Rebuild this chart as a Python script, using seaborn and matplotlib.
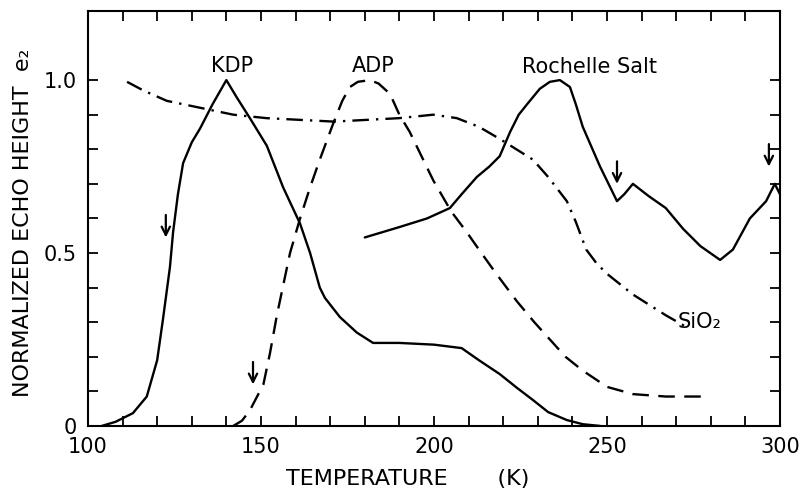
import numpy as np
import pandas as pd
import matplotlib
matplotlib.use('Agg')
import matplotlib.pyplot as plt
from matplotlib.ticker import FixedLocator
import seaborn as sns

# curves (temperature in K, normalized echo height)
kdp_T = [104, 108, 113, 117, 120, 121.7, 123.7, 124.6, 126, 127.5, 130, 132.4, 136, 140,
         143, 146.8, 151.7, 156.4, 161.3, 164.2, 167, 168.5, 172.8, 177.7, 182.4, 190,
         200, 208, 213, 219, 224, 228.6, 233, 238.4, 243, 248]
kdp_y = [0, 0.012, 0.037, 0.085, 0.19, 0.31, 0.46, 0.56, 0.67, 0.76, 0.82, 0.86, 0.93, 1.0,
         0.95, 0.89, 0.81, 0.69, 0.585, 0.50, 0.40, 0.37, 0.315, 0.27, 0.24, 0.24,
         0.235, 0.225, 0.19, 0.15, 0.11, 0.075, 0.04, 0.017, 0.005, 0]

adp_T = [142, 144.5, 146.8, 150.7, 152.6, 154.6, 156.5, 158.4, 161.3, 164.2, 167, 170.9,
         173.5, 175.7, 178, 181.5, 184, 187.3, 190, 193, 199.8, 205, 209.5, 213, 218, 224,
         229, 233.5, 238, 243, 250, 257.5, 267, 278]
adp_y = [0, 0.015, 0.045, 0.12, 0.21, 0.32, 0.41, 0.50, 0.60, 0.69, 0.77, 0.875,
         0.94, 0.98, 0.995, 1.0, 0.99, 0.96, 0.90, 0.85, 0.71, 0.62, 0.56, 0.51, 0.44, 0.36,
         0.30, 0.25, 0.20, 0.16, 0.113, 0.092, 0.085, 0.085]

sio2_T = [111.3, 116, 122.8, 132.4, 142, 151.6, 161.3, 171, 180.6, 190, 199.8, 206.6, 213,
          219, 228.6, 233, 238.4, 241, 244, 247, 250, 257.5, 267, 274]
sio2_y = [0.995, 0.97, 0.94, 0.92, 0.90, 0.89, 0.885, 0.88, 0.885, 0.89, 0.90, 0.89, 0.865,
          0.83, 0.77, 0.72, 0.65, 0.59, 0.51, 0.47, 0.44, 0.38, 0.32, 0.28]

rochelle_T = [180, 185, 190, 198, 204.6, 208, 212.4, 216, 219, 222, 224.5, 226.9, 230.6,
              233.5, 236.4, 239.3, 241, 243, 248, 252.9, 255, 257.5, 262, 267, 272, 277,
              282.7, 286.4, 291.3, 296, 298.5, 300]
rochelle_y = [0.545, 0.56, 0.575, 0.60, 0.63, 0.67, 0.72, 0.75, 0.78, 0.85, 0.90, 0.93, 0.975,
              0.995, 1.0, 0.98, 0.93, 0.865, 0.75, 0.65, 0.67, 0.70, 0.665, 0.63, 0.57, 0.52,
              0.48, 0.51, 0.60, 0.65, 0.70, 0.67]

# transition arrows (tip position)
arrow_T = [122.5, 147.7, 252.9, 296.8]
arrow_y = [0.545, 0.12, 0.70, 0.75]

labels = ['KDP', 'ADP', 'Rochelle Salt', 'SiO₂']
label_T = [141.6, 182.4, 245, 270.5]
label_y = [1.012, 1.012, 1.008, 0.30]

x_ticks = [100, 150, 200, 250, 300]
y_ticks = [0, 0.5, 1.0]
y_ticklabels = ['0', '0.5', '1.0']

sns.set_style('ticks')
plt.rcParams['font.family'] = ['DejaVu Sans']
plt.rcParams['text.color'] = 'black'
plt.rcParams['axes.labelcolor'] = 'black'
plt.rcParams['xtick.color'] = 'black'
plt.rcParams['ytick.color'] = 'black'

fig = plt.figure(figsize=(8.07, 4.97), dpi=100)
ax = fig.add_axes([0.109, 0.143, 0.8575, 0.835])

lw = 1.7
sns.lineplot(x=kdp_T, y=kdp_y, ax=ax, color='black', linewidth=lw, sort=False)
sns.lineplot(x=adp_T, y=adp_y, ax=ax, color='black', linewidth=lw, sort=False,
             linestyle=(0, (7, 4)))
sns.lineplot(x=sio2_T, y=sio2_y, ax=ax, color='black', linewidth=lw, sort=False,
             linestyle=(0, (7, 3, 1, 3)))
sns.lineplot(x=rochelle_T, y=rochelle_y, ax=ax, color='black', linewidth=lw, sort=False)

for t, yv in zip(arrow_T, arrow_y):
    ax.annotate('', xy=(t, yv), xytext=(t, yv + 0.065),
                arrowprops=dict(arrowstyle='->,head_length=0.6,head_width=0.3',
                                color='black', lw=1.6, shrinkA=0, shrinkB=0))

for i, (lab, t, yv) in enumerate(zip(labels, label_T, label_y)):
    ha = 'left' if i == 3 else 'center'
    ax.text(t, yv, lab, ha=ha, va='bottom' if i < 3 else 'center', fontsize=15)

ax.set_xlim(100, 300)
ax.set_ylim(0, 1.2)
ax.xaxis.set_major_locator(FixedLocator(x_ticks))
ax.xaxis.set_minor_locator(FixedLocator(np.arange(100, 301, 10)))
ax.yaxis.set_major_locator(FixedLocator(y_ticks))
ax.yaxis.set_minor_locator(FixedLocator(np.arange(0, 1.05, 0.1)))
ax.set_xticklabels([str(t) for t in x_ticks])
ax.set_yticklabels(y_ticklabels)
ax.tick_params(which='both', direction='in', top=True, right=True, length=7, width=1.3,
               labelsize=15)
ax.tick_params(axis='x', pad=8)
ax.tick_params(axis='y', pad=8)
for s in ax.spines.values():
    s.set_linewidth(1.5)
    s.set_color('black')

ax.set_xlabel('TEMPERATURE       (K)', fontsize=16)
ax.set_ylabel('NORMALIZED ECHO HEIGHT  e₂', fontsize=16)
ax.xaxis.set_label_coords(0.462, -0.104)
ax.yaxis.set_label_coords(-0.079, 0.49)

fig.savefig('out.png', dpi=100, facecolor='white')
